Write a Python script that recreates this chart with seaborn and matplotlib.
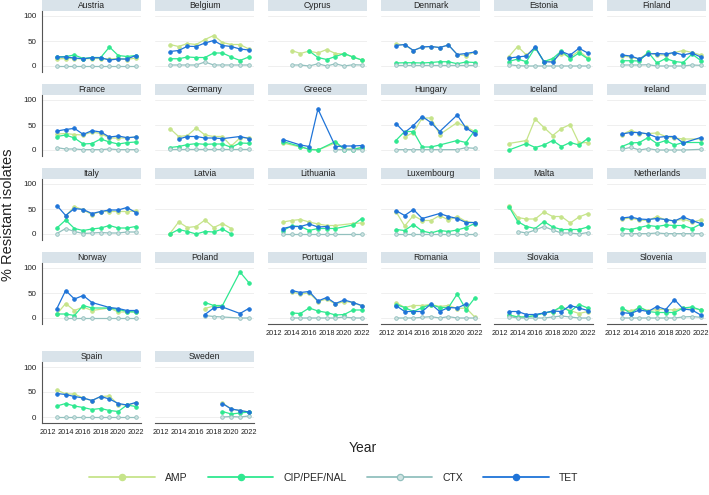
import numpy as np
import pandas as pd
import matplotlib
matplotlib.use("Agg")
import matplotlib.pyplot as plt
import seaborn as sns
from matplotlib.patches import Rectangle
from matplotlib.lines import Line2D

sns.set_style("white")
plt.rcParams['font.family'] = ['Liberation Sans', 'DejaVu Sans']

N = None
years = list(range(2013, 2023))
drugs = ["AMP", "CIP/PEF/NAL", "CTX", "TET"]
countries = ["Austria", "Belgium", "Cyprus", "Denmark", "Estonia", "Finland",
             "France", "Germany", "Greece", "Hungary", "Iceland", "Ireland",
             "Italy", "Latvia", "Lithuania", "Luxembourg", "Malta", "Netherlands",
             "Norway", "Poland", "Portugal", "Romania", "Slovakia", "Slovenia",
             "Spain", "Sweden"]

austria = dict(AMP=[14, 15, 15, 14, 15, 15, 14, 15, 13, 16],
               CIP=[18, 19, 22, 15, 17, 17, 38, 21, 19, 21],
               CTX=[0.5] * 10,
               TET=[18, 18, 16, 14.5, 16.5, 16.5, 12, 14, 14, 21])
belgium = dict(AMP=[43, 39, 45, 43, 53, 61, 47, 43, 43, 34],
               CIP=[14.5, 14.5, 18, 17, 17, 26, 26, 18, 11, 18],
               CTX=[2, 2, 2, 2, 8, 2, 2, 2, 2, 2],
               TET=[29, 31, 39.5, 39, 46, 51, 41, 39, 34, 32])
cyprus = dict(AMP=[N, 31, 25, 30, 26, 33, 25, 24, 18, 12],
              CIP=[N, N, N, 30, 17, 13, 19, 25, 18, 12],
              CTX=[N, 2, 2, 0, 4.5, 0, 4.5, 0, 2.5, 2],
              TET=[N] * 10)
denmark = dict(AMP=[44, 42, 31, 38, 39, 37, 42, 23, 21, 28],
               CIP=[6, 6.5, 6.5, 6, 7, 8.5, 8.5, 4.5, 8, 7],
               CTX=[1.3] * 10,
               TET=[41, 43, 31, 38, 39, 37, 42, 23, 25, 28])
estonia = dict(AMP=[19, 39, 22, 36, 9, 10, 25, 18, 30, 16],
               CIP=[9, 14, 8.5, 37, 9, 15, 30, 14.5, 26, 14.5],
               CTX=[2.6, 0.6, 0, 0, 0, 0, 0, 0, 0, 0],
               TET=[16, 18, 20, 38, 8.5, 8, 29, 22, 35.5, 26])
finland = dict(AMP=[20, 18, 14, 27, 22, 22, 27, 31, 27, 22],
               CIP=[10.5, 10.5, 10, 27.5, 6, 15, 9, 7, 24, 11],
               CTX=[2, 2, 2, 2.6, 0, 0, 0, 0, 2, 1.3],
               TET=[22, 20, 14, 24, 25, 24, 27, 22, 26, 18])
france = dict(AMP=[32, 33, 31, 30, 36, 33, 24, 24, 24, 26],
              CIP=[27, 30, 24, 12, 13, 22, 16, 12, 14.7, 16],
              CTX=[4.7, 2, 2, 0.7, 0.7, 0.7, 2, 0.7, 0.7, 0.7],
              TET=[38, 41, 43.3, 31.3, 38.7, 36, 26, 28, 24.7, 26])
germany = dict(AMP=[43, 27, 29, 44, 30, 27, 27, 8, 24, 25],
               CIP=[5, 7, 10.7, 12.7, 11.3, 12, 12, 5.3, 14, 13.3],
               CTX=[1.5] * 10,
               TET=[N, 22, 27, 27, 24, 24, 22.7, N, 27, 23])
greece = dict(AMP=[14, N, 6, 2, 0, N, 14, 2, 2, 5],
              CIP=[17, N, 7, 1, 0, N, 17, 1, 1, 5],
              CTX=[N, N, N, N, N, N, 0.5, 0.5, 0.5, 1],
              TET=[21, N, 10, 7, 82, N, 7, 8, 8, 9])
hungary = dict(AMP=[N, 26, 35, 64, 64, 31, N, 55, 46, 37],
               CIP=[19, 37, 37, 6, 6, 10, N, 19, 15, 39],
               CTX=[0.7, 0.7, 0.7, 0.7, 0.7, 0.7, N, 0.7, 4.7, 3.3],
               TET=[53, 35, 49, 67, 55, 37, N, 70, 44, 33])
iceland = dict(AMP=[13, N, 19, 62, 45, 29, 43, 51, 14, 15],
               CIP=[0, N, 13, 5, 10, 19, 7, 15, 10, 23],
               CTX=[N] * 10,
               TET=[N] * 10)
ireland = dict(AMP=[31, 39, 33, 33, 34, 27, 24, 22, N, 22],
               CIP=[7, 14, 15, 25, 13, 19, 10, 15, N, 15],
               CTX=[1.3, 5.3, 0, 2.7, 0, 0, 0, 0, N, 1.3],
               TET=[32, 35, 35, 32, 25, 27, 27, 14, N, 25])
italy = dict(AMP=[N, 36, 55, 48, 39, 45, 45, 45, 45, 46],
             CIP=[12, 28, 11, 7, 10, 12, 17, 12, 12, 15],
             CTX=[1, 11, 5, 1, 2, 3, 2, 2, 4, 4],
             TET=[57, 37, 51, 49, 41, 45, 48, 48, 53, 43])
latvia = dict(AMP=[1, 24, 13, 15, 28, 13, 21, 11, N, N],
              CIP=[0, 9, 5, 0, 5, 4, 10, 0, N, N],
              CTX=[N] * 10,
              TET=[N] * 10)
lithuania = dict(AMP=[24, 27, 29, 24, 20, 17, 17, N, 21, 22],
                 CIP=[7, 16, 15, 7, 11, 11, 11, N, 18, 31],
                 CTX=[0, 0, 0, 0, 0, 0, 0, N, 0, 0],
                 TET=[11, 15, 15, 20, 14, 15, N, N, N, N])
luxembourg = dict(AMP=[45, 16, 37, 27, 27, 37, 28, 35, 25, 22],
                  CIP=[9, 7, 19, 6, 2, 7, 5, 8, 13, 21],
                  CTX=[0.5] * 10,
                  TET=[47, 37, 49, 31, N, 41, 35, 31, 23, 23])
malta = dict(AMP=[56, 33, 30, 30, 44, 35, 35, 22, 34, 41],
             CIP=[55, 25, 15, 11, 25, 14, 9, 9, 9, 14],
             CTX=[N, 5, 2, 8, 15, 8, 2, 2, 0, 3],
             TET=[N] * 10)
netherlands = dict(AMP=[30, 32, 28, 27, 35, 28, 26, 30, 24, 28],
                   CIP=[11, 9, 13, 17, 15, 18, 17, 17, 11, 20],
                   CTX=[0.7, 0.7, 0.7, 0.7, 2, 0.7, 0.7, 0.7, 0.7, 0.7],
                   TET=[32, 34, 30, 29, 31, 29, 26, 34, 27, 21])
norway = dict(AMP=[8, 29, 15, 22, 15, N, 20, 12, 12, 12],
              CIP=[8, 8, 5, 25, 20, N, 20, 17, 13, 12],
              CTX=[N, 0, 0, 0, 0, N, 0, 0, 0, 0],
              TET=[19, 55, 38, 45, 31, N, 21, 19, 15, 15])
poland = dict(AMP=[N, N, N, N, 19, 24, 22, N, N, N],
              CIP=[N, N, N, N, 31, 25, 25, N, 92, 71],
              CTX=[N, N, N, N, 5, 3, 2, N, 0, 0],
              TET=[N, N, N, N, 7, 20, 22, N, 9, 19])
portugal = dict(AMP=[N, 52, 48, 50, 33, 38, 28, 33, 31, 24],
                CIP=[N, 10, 9, 20, 14, 11, 6, 7, 16, 16],
                CTX=[N, 0, 0, 0, 0, 0, 0, 2, 0, 0],
                TET=[N, 55, 51, 53, 34, 41, 29, 36, 31, 25])
romania = dict(AMP=[31, 21, 25, 25, 27, 23, 25, 19, 20, 2],
               CIP=[27, 21, 13, 21, 27, 21, 21, 48, 17, 40],
               CTX=[0, 0, 0, 1.3, 2.7, 0, 2.7, 0, 0, 0],
               TET=[25, 13, 13, 13, 28, 13, 21, 20, 28, N])
slovakia = dict(AMP=[6, 2, 2, 5, 10, 12, 22, 15, 9, 13],
                CIP=[6, 2, 2, 5, 10, 13, 23, 13, 27, 20],
                CTX=[3, 0, 0, 0, 0, 2, 4, 2, 0, 0],
                TET=[13, 13, 7, 7, 10, 14, 13, 25, 20, 15])
slovenia = dict(AMP=[17, 14, 20, 15, 17, 17, 16, 20, 20, 16],
                CIP=[21, 9, 22, 13, 11, 11, 11, 20, 22, 16],
                CTX=[0, 0, 0, 0, 0, 0, 0, 2, 3, 1.3],
                TET=[11, 9, 16, 13, 23, 17, 37, 18, 16, 6])
spain = dict(AMP=[54, 46, 46, 38, 33, 41, 42, 25, 24, 28],
             CIP=[22, 27, 22, 19, 15, 17, 13, 11, 24, 21],
             CTX=[0.5] * 10,
             TET=[47, 45, 41, 38, 33, 41, 36, 27, 24, 29])
sweden = dict(AMP=[N] * 6 + [28, 16, 13, 10],
              CIP=[N] * 6 + [11, 6, 8, 10],
              CTX=[N] * 6 + [0, 1, 0, 2],
              TET=[N] * 6 + [27, 16, 13, 10])

country_data = [austria, belgium, cyprus, denmark, estonia, finland,
                france, germany, greece, hungary, iceland, ireland,
                italy, latvia, lithuania, luxembourg, malta, netherlands,
                norway, poland, portugal, romania, slovakia, slovenia,
                spain, sweden]

keys = ["AMP", "CIP", "CTX", "TET"]
colors = {"AMP": "#c6e48a", "CIP": "#2fe890", "CTX": "#92c0be", "TET": "#1f74d8"}
faces = {"AMP": "#c6e48a", "CIP": "#2fe890", "CTX": "#cfe3e2", "TET": "#1f74d8"}

W, H = 709, 495
fig = plt.figure(figsize=(W / 100, H / 100), dpi=100)

col_left = [42 + c * 113 for c in range(6)]
panel_w = 99
strip_tops = [0, 84, 168, 252, 351]
n = len(countries)

def bottom_most(i):
    return i + 6 >= n

for i, (name, d) in enumerate(zip(countries, country_data)):
    r, c = divmod(i, 6)
    st = strip_tops[r]
    top = st + 11
    bot = st + 72
    ax = fig.add_axes([col_left[c] / W, 1 - bot / H, panel_w / W, (bot - top) / H])
    ax.set_facecolor("none")
    ax.grid(axis="y", color="#ececec", lw=0.6)
    ax.set_axisbelow(True)
    for k in keys:
        vals = np.array([np.nan if v is None else v for v in d[k]], dtype=float)
        if np.all(np.isnan(vals)):
            continue
        df = pd.DataFrame({"Year": years, "Value": vals})
        sns.lineplot(data=df, x="Year", y="Value", ax=ax, color=colors[k],
                     marker="o", markersize=2.6, markerfacecolor=faces[k],
                     markeredgecolor=colors[k], markeredgewidth=0.6,
                     linewidth=0.9, legend=False)
    ax.set_xlim(2011.3, 2022.6)
    ax.set_ylim(-12, 110)
    ax.set_yticks([0, 50, 100])
    ax.set_xlabel("")
    ax.set_ylabel("")
    for s in ["top", "right"]:
        ax.spines[s].set_visible(False)
    ax.spines["left"].set_visible(c == 0)
    ax.spines["left"].set_color("#555555")
    ax.spines["left"].set_linewidth(0.8)
    if c == 0:
        ax.tick_params(axis="y", length=3, width=0.7, color="#555555",
                       labelsize=5.8, pad=1, labelcolor="#222222")
    else:
        ax.tick_params(axis="y", length=0, labelleft=False)
    if bottom_most(i):
        ax.spines["bottom"].set_visible(True)
        ax.spines["bottom"].set_color("#555555")
        ax.spines["bottom"].set_linewidth(0.8)
        ax.set_xticks(list(range(2012, 2023, 2)))
        ax.set_xticks(list(range(2013, 2023, 2)), minor=True)
        ax.tick_params(axis="x", which="both", length=3, width=0.7,
                       color="#555555", labelsize=5.3, pad=1.5, labelcolor="#222222")
    else:
        ax.spines["bottom"].set_visible(False)
        ax.set_xticks(list(range(2012, 2023, 2)))
        ax.tick_params(axis="x", length=0, labelbottom=False)
    # strip
    sh = 10.5 / (bot - top)
    ax.add_patch(Rectangle((0, 1 + 0.5 / (bot - top)), 1, sh, transform=ax.transAxes,
                           facecolor="#d9e3ea", edgecolor="none", clip_on=False))
    ax.text(0.5, 1 + 0.5 / (bot - top) + sh / 2, name, transform=ax.transAxes,
            ha="center", va="center", fontsize=6.2, color="#222222")

fig.text(8 / W, 1 - 215 / H, "% Resistant isolates", rotation=90,
         ha="center", va="center", fontsize=10.5, color="#222222")
fig.text(363 / W, 1 - 448 / H, "Year", ha="center", va="center",
         fontsize=10, color="#222222")

handles = [Line2D([], [], color=colors[k], marker="o", markersize=4.5,
                  markerfacecolor=faces[k], markeredgecolor=colors[k],
                  markeredgewidth=0.9, linewidth=1.3) for k in keys]
fig.legend(handles, drugs, loc="center", bbox_to_anchor=(334 / W, 1 - 478 / H),
           ncol=4, frameon=False, fontsize=7.5, handlelength=6.3,
           handletextpad=1.0, columnspacing=1.9, numpoints=1)

fig.savefig("out.png", dpi=100)
